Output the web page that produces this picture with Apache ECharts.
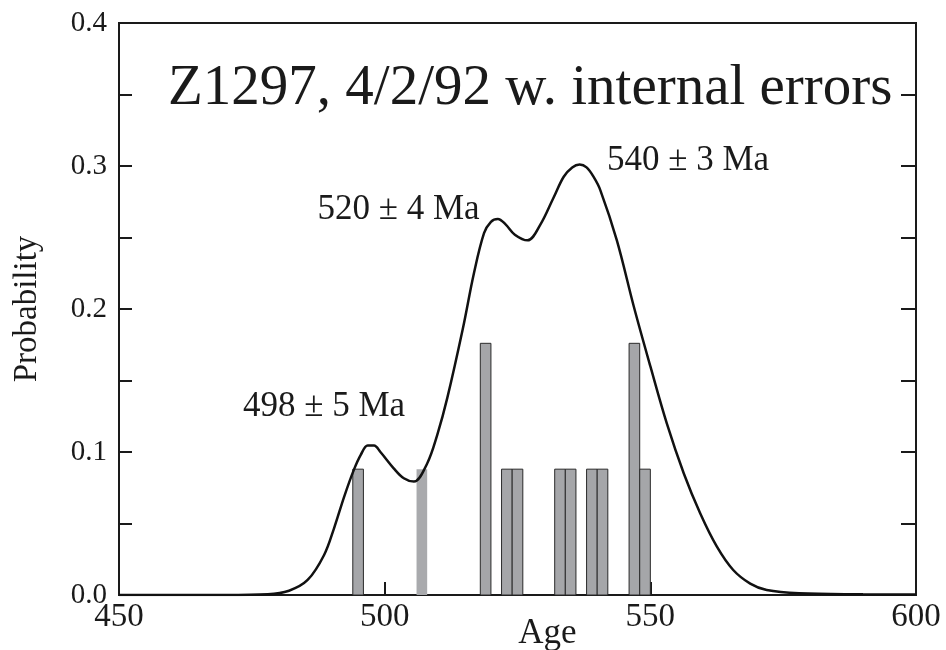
<!DOCTYPE html>
<html>
<head>
<meta charset="utf-8">
<script src="https://cdn.jsdelivr.net/npm/echarts@6/dist/echarts.min.js"></script>
<style>html,body{margin:0;padding:0;background:#fff;}#c{width:946px;height:650px;}</style>
</head>
<body>
<div id="c"></div>
<script>
// Probability density curve (Age, Probability)
const curveAge = [450,470,478,482,485.5,488.6,490.5,492.4,494.2,495.5,496.8,498,499.2,501.7,503.6,505.5,508,509.9,511.8,514.7,516.8,518.7,520,521.3,522.8,524.5,526.9,529.3,531.8,533.7,535.3,536.7,538,539.3,540.6,543.7,546.9,550,553.1,556.3,559.4,562.5,565.6,568.8,571.9,578,590,600];
const curveProb = [0,0,0.0005,0.003,0.0105,0.028,0.047,0.069,0.0875,0.098,0.1045,0.1045,0.1,0.0886,0.0816,0.0793,0.092,0.112,0.138,0.186,0.225,0.253,0.261,0.263,0.259,0.252,0.248,0.259,0.278,0.2925,0.299,0.301,0.299,0.2925,0.283,0.248,0.2016,0.16,0.12,0.085,0.057,0.034,0.0175,0.008,0.0035,0.0012,0.0005,0.0003];

// Histogram bins (2 Ma wide)
const binStart = [494,506,518,522,524,532,534,538,540,546,548];
const binEnd   = [496,508,520,524,526,534,536,540,542,548,550];
const binProb  = [0.088,0.088,0.176,0.088,0.088,0.088,0.088,0.088,0.088,0.176,0.088];
const binLight = [0,1,0,0,0,0,0,0,0,0,0];

// Peak annotations
const annoText = ['498 ± 5 Ma','520 ± 4 Ma','540 ± 3 Ma'];
const annoAge  = [488.6,502.6,557.1];
const annoProb = [0.1315,0.2694,0.3038];

const titleText = 'Z1297, 4/2/92 w. internal errors';
const xTicks = [450,500,550,600];

const FONT = "'Liberation Serif','Times New Roman',serif";
const chart = echarts.init(document.getElementById('c'));

const curveData = curveAge.map((a,i)=>[a,curveProb[i]]);
const binData = binStart.map((s,i)=>[s,binEnd[i],binProb[i],binLight[i]]);
const annoData = annoText.map((t,i)=>({value:[annoAge[i],annoProb[i]], name:t}));

chart.setOption({
  backgroundColor:'#fff',
  animation:false,
  title:{
    text:titleText, left:168, top:61, padding:0,
    textStyle:{fontFamily:FONT,fontSize:57,fontWeight:'normal',color:'#1a1a1a'}
  },
  grid:{left:119,right:30,top:23,bottom:55,containLabel:false,outerBoundsMode:'none',
    show:true,borderColor:'#1a1a1a',borderWidth:2,backgroundColor:'transparent'},
  xAxis:{
    type:'value',min:450,max:600,interval:50,
    name:'Age',nameLocation:'middle',nameGap:21,nameMoveOverlap:false,
    nameTextStyle:{fontFamily:FONT,fontSize:35,color:'#1a1a1a',padding:[0,0,0,60]},
    axisLine:{show:true,onZero:false,lineStyle:{color:'#1a1a1a',width:2}},
    axisTick:{show:true,inside:true,length:13,lineStyle:{color:'#1a1a1a',width:2}},
    axisLabel:{fontFamily:FONT,fontSize:33,color:'#1a1a1a',margin:6,
      formatter:v=>xTicks.indexOf(v)>=0?String(v):''},
    splitLine:{show:false}
  },
  yAxis:[{
    type:'value',min:0,max:0.4,interval:0.05,position:'left',
    name:'Probability',nameLocation:'middle',nameGap:75,
    nameTextStyle:{fontFamily:FONT,fontSize:33,color:'#1a1a1a'},
    axisLine:{show:true,lineStyle:{color:'#1a1a1a',width:2}},
    axisTick:{show:true,inside:true,length:13,lineStyle:{color:'#1a1a1a',width:2}},
    axisLabel:{fontFamily:FONT,fontSize:29,color:'#1a1a1a',margin:12,padding:[0,0,6,0],
      formatter:v=>{const k=Math.round(v*100);return k%10===0?(k/100).toFixed(1):'';}},
    splitLine:{show:false}
  },{
    type:'value',min:0,max:0.4,interval:0.05,position:'right',
    axisLine:{show:true,lineStyle:{color:'#1a1a1a',width:2}},
    axisTick:{show:true,inside:true,length:15,lineStyle:{color:'#1a1a1a',width:2}},
    axisLabel:{show:false},splitLine:{show:false}
  }],
  series:[{
    type:'custom',
    data:binData,
    encode:{x:[0,1],y:2},
    z:2,
    renderItem:function(params,api){
      const p0 = api.coord([api.value(0),api.value(2)]);
      const p1 = api.coord([api.value(1),0]);
      const light = api.value(3)===1;
      return {type:'rect',shape:{x:p0[0],y:p0[1],width:p1[0]-p0[0],height:p1[1]-p0[1]},
        style:{fill:light?'#a9aaad':'#a5a6a9',stroke:light?null:'#2a2a2a',lineWidth:light?0:1}};
    }
  },{
    type:'line',data:curveData,smooth:0.35,symbol:'none',z:3,
    lineStyle:{color:'#111',width:2.5}
  },{
    type:'scatter',data:annoData,symbolSize:1,z:4,
    itemStyle:{color:'rgba(0,0,0,0)',opacity:1},
    label:{show:true,position:'inside',formatter:p=>p.name,opacity:1,
      fontFamily:FONT,fontSize:35,color:'#1a1a1a',textBorderWidth:0}
  }]
});
</script>
</body>
</html>
